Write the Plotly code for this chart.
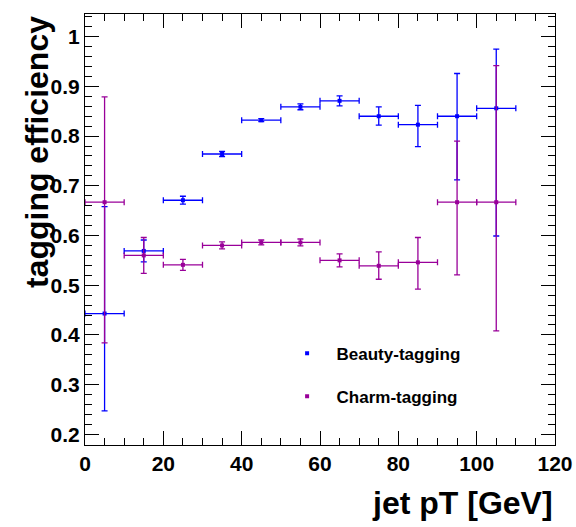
import plotly.graph_objects as go

# Data
pt_centers = [5, 15, 25, 35, 45, 55, 65, 75, 85, 95, 105]
pt_halfwidth = [5] * 11

beauty_eff = [0.443, 0.569, 0.671, 0.764, 0.832, 0.859, 0.871, 0.840, 0.823, 0.840, 0.856]
beauty_err_up = [0.215, 0.022, 0.008, 0.005, 0.003, 0.006, 0.010, 0.019, 0.039, 0.086, 0.119]
beauty_err_dn = [0.196, 0.022, 0.008, 0.005, 0.003, 0.006, 0.010, 0.018, 0.044, 0.128, 0.257]

charm_eff = [0.667, 0.560, 0.541, 0.580, 0.586, 0.586, 0.550, 0.539, 0.546, 0.667, 0.667]
charm_err_up = [0.212, 0.036, 0.011, 0.007, 0.005, 0.007, 0.013, 0.028, 0.050, 0.123, 0.275]
charm_err_dn = [0.283, 0.036, 0.011, 0.007, 0.005, 0.007, 0.013, 0.027, 0.054, 0.146, 0.259]

x_ticks = [0, 20, 40, 60, 80, 100, 120]
y_ticks = [0.2, 0.3, 0.4, 0.5, 0.6, 0.7, 0.8, 0.9, 1.0]
y_ticklabels = ["0.2", "0.3", "0.4", "0.5", "0.6", "0.7", "0.8", "0.9", "1"]

BLUE = "#0000ff"
PURPLE = "#990099"
FONT = "Liberation Sans, Arial, sans-serif"

fig = go.Figure()

def add_series(y, eup, edn, color, name, group):
    fig.add_trace(go.Scatter(
        x=pt_centers, y=y, mode="markers", name=name, legendgroup=group,
        marker=dict(symbol="square", size=4, color=color),
        error_x=dict(type="data", array=pt_halfwidth, color=color, thickness=1.3, width=3),
        error_y=dict(type="data", array=eup, arrayminus=edn, symmetric=False,
                     color=color, thickness=1.3, width=3),
    ))

add_series(beauty_eff, beauty_err_up, beauty_err_dn, BLUE, "\u00a0\u00a0Beauty-tagging", "b")
add_series(charm_eff, charm_err_up, charm_err_dn, PURPLE, "\u00a0\u00a0Charm-tagging", "c")

axis_common = dict(
    showgrid=False, zeroline=False, showline=True, linecolor="black", linewidth=1,
    mirror="allticks", ticks="inside", ticklen=14, tickwidth=1, tickcolor="black",
    automargin=False,
    tickfont=dict(family=FONT, size=21, color="black", weight="bold"),
)

fig.update_xaxes(
    range=[0, 120], tickvals=x_ticks, ticktext=[str(v) for v in x_ticks],
    minor=dict(dtick=5, tick0=0, ticks="inside", ticklen=7, tickcolor="black", tickwidth=1),
    **axis_common,
)
fig.update_yaxes(
    range=[0.1785, 1.0457], tickvals=y_ticks, ticktext=y_ticklabels,
    minor=dict(dtick=0.02, tick0=0.2, ticks="inside", ticklen=7, tickcolor="black", tickwidth=1),
    **axis_common,
)

fig.update_layout(
    width=576, height=527,
    margin=dict(l=85, r=21, t=14, b=82),
    plot_bgcolor="white", paper_bgcolor="white",
    showlegend=True,
    legend=dict(
        x=0.43, y=0.162, xanchor="left", yanchor="middle",
        font=dict(family=FONT, size=17, color="black", weight="bold"),
        bgcolor="rgba(0,0,0,0)", tracegroupgap=18,
    ),
    annotations=[
        dict(text="jet pT [GeV]", xref="paper", yref="paper", x=1.0, y=-0.135,
             xanchor="right", yanchor="middle", showarrow=False,
             font=dict(family=FONT, size=32, color="black", weight="bold")),
        dict(text="tagging efficiency", xref="paper", yref="paper", x=-0.102, y=1.0,
             xanchor="center", yanchor="top", textangle=-90, showarrow=False,
             font=dict(family=FONT, size=32, color="black", weight="bold")),
    ],
)

fig.write_html(
    "out.html",
    config={"displayModeBar": False},
    post_script="document.body.style.margin='0';document.body.style.overflow='hidden';",
)
